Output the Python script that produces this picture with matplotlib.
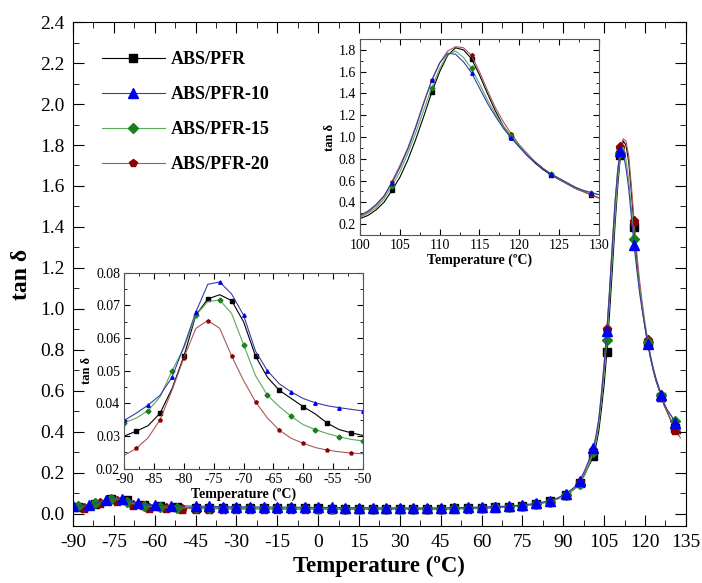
import numpy as np
import matplotlib
matplotlib.use("Agg")
import matplotlib.pyplot as plt
from matplotlib.ticker import MultipleLocator

plt.rcParams['font.family'] = ['Liberation Serif', 'DejaVu Serif']
plt.rcParams['axes.unicode_minus'] = False

labels = ["ABS/PFR", "ABS/PFR-10", "ABS/PFR-15", "ABS/PFR-20"]

# cold transition (inset, -90 .. -50 C, every 2 C)
t_cold = list(range(-90, -49, 2))
cold = {
    "ABS/PFR": [0.0300, 0.0315, 0.0332, 0.0370, 0.0445, 0.0545, 0.0670, 0.0720, 0.0733, 0.0715,
                0.0650, 0.0545, 0.0480, 0.0440, 0.0415, 0.0390, 0.0368, 0.0340, 0.0320, 0.0310, 0.0302],
    "ABS/PFR-10": [0.0348, 0.0370, 0.0395, 0.0425, 0.0480, 0.0575, 0.0680, 0.0765, 0.0772, 0.0735,
                   0.0670, 0.0560, 0.0500, 0.0460, 0.0435, 0.0415, 0.0402, 0.0393, 0.0387, 0.0382, 0.0377],
    "ABS/PFR-15": [0.0341, 0.0355, 0.0378, 0.0420, 0.0500, 0.0570, 0.0670, 0.0712, 0.0717, 0.0675,
                   0.0580, 0.0485, 0.0425, 0.0390, 0.0360, 0.0335, 0.0320, 0.0308, 0.0298, 0.0290, 0.0285],
    "ABS/PFR-20": [0.0241, 0.0262, 0.0295, 0.0350, 0.0440, 0.0540, 0.0630, 0.0654, 0.0630, 0.0545,
                   0.0470, 0.0405, 0.0355, 0.0318, 0.0293, 0.0278, 0.0265, 0.0257, 0.0252, 0.0248, 0.0246],
}

# glassy plateau and onset of the main peak
t_mid = [-45, -40, -35, -30, -25, -20, -15, -10, -5, 0, 5, 10, 15, 20, 25, 30, 35, 40, 45,
         50, 55, 60, 65, 70, 75, 80, 85, 88, 91, 94, 96, 98]
mid = {
    "ABS/PFR": [0.029, 0.028, 0.027, 0.027, 0.026, 0.026, 0.026, 0.025, 0.025, 0.025, 0.024, 0.024,
                0.024, 0.024, 0.024, 0.024, 0.024, 0.024, 0.024, 0.025, 0.026, 0.028, 0.031, 0.034,
                0.039, 0.047, 0.059, 0.072, 0.092, 0.120, 0.148, 0.195],
    "ABS/PFR-10": [0.036, 0.035, 0.034, 0.033, 0.033, 0.032, 0.032, 0.031, 0.031, 0.030, 0.030, 0.029,
                   0.029, 0.029, 0.028, 0.028, 0.028, 0.028, 0.028, 0.029, 0.030, 0.032, 0.034, 0.037,
                   0.042, 0.050, 0.063, 0.077, 0.098, 0.128, 0.160, 0.215],
    "ABS/PFR-15": [0.028, 0.027, 0.027, 0.026, 0.026, 0.025, 0.025, 0.025, 0.025, 0.024, 0.024, 0.024,
                   0.024, 0.024, 0.024, 0.024, 0.024, 0.024, 0.024, 0.025, 0.026, 0.028, 0.030, 0.033,
                   0.038, 0.046, 0.058, 0.071, 0.090, 0.118, 0.145, 0.190],
    "ABS/PFR-20": [0.024, 0.023, 0.023, 0.022, 0.022, 0.022, 0.021, 0.021, 0.021, 0.021, 0.021, 0.021,
                   0.021, 0.021, 0.021, 0.021, 0.021, 0.021, 0.021, 0.022, 0.023, 0.025, 0.028, 0.032,
                   0.037, 0.045, 0.058, 0.072, 0.093, 0.123, 0.152, 0.205],
}

# main relaxation (100 .. 133 C, every 1 C)
t_peak = list(range(100, 134))
peak = {
    "ABS/PFR": [0.25, 0.28, 0.33, 0.40, 0.51, 0.63, 0.79, 0.98, 1.19, 1.41, 1.60, 1.75, 1.82, 1.80,
                1.72, 1.57, 1.40, 1.24, 1.10, 1.00, 0.91, 0.83, 0.76, 0.70, 0.65, 0.61, 0.57, 0.53,
                0.50, 0.47, 0.44, 0.42, 0.40, 0.39],
    "ABS/PFR-10": [0.28, 0.32, 0.38, 0.46, 0.58, 0.72, 0.89, 1.09, 1.31, 1.52, 1.68, 1.77, 1.76, 1.69,
                   1.59, 1.45, 1.31, 1.19, 1.08, 0.99, 0.91, 0.83, 0.77, 0.71, 0.66, 0.62, 0.58, 0.54,
                   0.51, 0.49, 0.47, 0.44, 0.42, 0.40],
    "ABS/PFR-15": [0.26, 0.30, 0.35, 0.43, 0.55, 0.68, 0.85, 1.04, 1.25, 1.45, 1.63, 1.76, 1.79, 1.73,
                   1.63, 1.49, 1.34, 1.21, 1.10, 1.01, 0.92, 0.84, 0.77, 0.71, 0.66, 0.62, 0.58, 0.54,
                   0.51, 0.49, 0.47, 0.45, 0.43, 0.41],
    "ABS/PFR-20": [0.27, 0.31, 0.37, 0.45, 0.59, 0.74, 0.90, 1.10, 1.32, 1.52, 1.68, 1.79, 1.83, 1.82,
                   1.75, 1.60, 1.43, 1.27, 1.14, 1.03, 0.93, 0.85, 0.77, 0.71, 0.66, 0.61, 0.57, 0.53,
                   0.50, 0.47, 0.44, 0.41, 0.39, 0.37],
}

line_col = {"ABS/PFR": "#000000", "ABS/PFR-10": "#3a3aa8", "ABS/PFR-15": "#5aaa5a", "ABS/PFR-20": "#a85a5a"}
mark_col = {"ABS/PFR": "#000000", "ABS/PFR-10": "#0000ee", "ABS/PFR-15": "#1b7f1b", "ABS/PFR-20": "#8b0000"}
mark = {"ABS/PFR": "s", "ABS/PFR-10": "^", "ABS/PFR-15": "D", "ABS/PFR-20": "p"}
msize = {"ABS/PFR": 6, "ABS/PFR-10": 7.5, "ABS/PFR-15": 5.5, "ABS/PFR-20": 6.5}
offset = {"ABS/PFR": 1.0, "ABS/PFR-10": 0.0, "ABS/PFR-15": 2.0, "ABS/PFR-20": 3.0}
order = ["ABS/PFR", "ABS/PFR-20", "ABS/PFR-15", "ABS/PFR-10"]


def spaced(t, gap, start):
    idx, last = [], None
    for i, v in enumerate(t):
        if v < t[0] + start:
            continue
        if last is None or v - last >= gap:
            idx.append(i)
            last = v
    return idx


def style(ax, lsize, pad):
    ax.tick_params(which='both', direction='in', top=True, right=True, labelsize=lsize, pad=pad)


fig = plt.figure(figsize=(7.02, 5.83), dpi=100)
ax = fig.add_axes([0.104, 0.098, 0.873, 0.864])

for name in order:
    t = t_cold + t_mid + t_peak
    y = cold[name] + mid[name] + peak[name]
    ax.plot(t, y, color=line_col[name], lw=0.8, marker=mark[name], ms=msize[name],
            mfc=mark_col[name], mec=mark_col[name], markevery=spaced(t, 4.5, offset[name]))

ax.set_xlim(-90, 135)
ax.set_ylim(-0.06, 2.4)
ax.xaxis.set_major_locator(MultipleLocator(15))
ax.xaxis.set_minor_locator(MultipleLocator(7.5))
ax.yaxis.set_major_locator(MultipleLocator(0.2))
ax.yaxis.set_minor_locator(MultipleLocator(0.1))
ax.tick_params(which='major', length=8)
ax.tick_params(which='minor', length=4)
style(ax, 14, 6)
ax.set_yticks(np.arange(0, 2.41, 0.2))
ax.set_yticklabels([f"{v:.1f}" for v in np.arange(0, 2.41, 0.2)])
ax.set_xlabel("Temperature (ºC)", fontsize=16.5, fontweight='bold', labelpad=3)
ax.set_ylabel("tan δ", fontsize=17, fontweight='bold', labelpad=6)

# legend: line with a single marker in the middle
proxies = [plt.Line2D([0], [0], color=line_col[n], lw=0.8, marker=mark[n], ms=msize[n] - 0.5,
                      mfc=mark_col[n], mec=mark_col[n]) for n in labels]
ax.legend(proxies, labels, loc='upper left', bbox_to_anchor=(0.02, 0.975), frameon=False,
          prop={'weight': 'bold', 'size': 13}, handlelength=3.5, labelspacing=1.0,
          handletextpad=0.35, numpoints=1)

# high temperature inset
ax1 = fig.add_axes([0.513, 0.597, 0.340, 0.336])
for name in order:
    ax1.plot(t_peak, peak[name], color=line_col[name], lw=0.8, marker=mark[name], ms=2.5,
             mfc=mark_col[name], mec=mark_col[name], markevery=list(range(4, len(t_peak), 5)))
ax1.set_xlim(100, 130)
ax1.set_ylim(0.1, 1.9)
ax1.xaxis.set_major_locator(MultipleLocator(5))
ax1.xaxis.set_minor_locator(MultipleLocator(2.5))
ax1.yaxis.set_major_locator(MultipleLocator(0.2))
ax1.yaxis.set_minor_locator(MultipleLocator(0.1))
ax1.tick_params(which='major', length=4)
ax1.tick_params(which='minor', length=2)
style(ax1, 10, 3)
ax1.set_xlabel("Temperature (ºC)", fontsize=10, fontweight='bold', labelpad=1)
ax1.set_ylabel("tan δ", fontsize=9, fontweight='bold', labelpad=2)
for s in ax1.spines.values():
    s.set_color('#555555')
    s.set_linewidth(0.8)

# low temperature inset
ax2 = fig.add_axes([0.177, 0.196, 0.340, 0.336])
for name in order:
    ax2.plot(t_cold, cold[name], color=line_col[name], lw=0.8, marker=mark[name], ms=2.5,
             mfc=mark_col[name], mec=mark_col[name],
             markevery=(int(offset[name]) % 2, 2))
ax2.set_xlim(-90, -50)
ax2.set_ylim(0.02, 0.08)
ax2.xaxis.set_major_locator(MultipleLocator(5))
ax2.xaxis.set_minor_locator(MultipleLocator(2.5))
ax2.yaxis.set_major_locator(MultipleLocator(0.01))
ax2.yaxis.set_minor_locator(MultipleLocator(0.005))
ax2.tick_params(which='major', length=4)
ax2.tick_params(which='minor', length=2)
style(ax2, 10, 3)
ax2.set_xlabel("Temperature (ºC)", fontsize=10, fontweight='bold', labelpad=1)
ax2.set_ylabel("tan δ", fontsize=9, fontweight='bold', labelpad=2)
for s in ax2.spines.values():
    s.set_color('#555555')
    s.set_linewidth(0.8)

fig.savefig("out.png", dpi=100)
